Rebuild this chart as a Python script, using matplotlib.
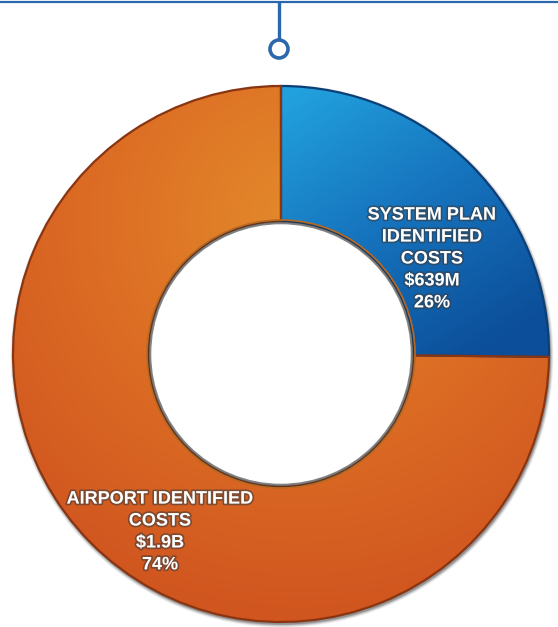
import matplotlib
matplotlib.use("Agg")
import matplotlib.pyplot as plt
import matplotlib.patheffects as pe
from matplotlib.patches import Wedge, Circle
from matplotlib.colors import LinearSegmentedColormap
import numpy as np

# data
categories = ["SYSTEM PLAN\nIDENTIFIED\nCOSTS", "AIRPORT IDENTIFIED\nCOSTS"]
amounts = [639, 1900]          # $M
amount_labels = ["$639M", "$1.9B"]
pct_labels = ["26%", "74%"]

W, H = 558, 627
fig = plt.figure(figsize=(W / 100, H / 100), dpi=100)
ax = fig.add_axes([0, 0, 1, 1])

cx, cy = 281, H - 354
R, r_in = 268, 133

# drop shadow ring behind the donut
for k, a in zip(range(6, 0, -1), [0.04, 0.06, 0.08, 0.1, 0.14, 0.2]):
    ax.add_patch(Circle((cx + 1, cy - 2), R + k * 0.6, color='#222222', alpha=a, lw=0))

wedges, _ = ax.pie(amounts, radius=R, center=(cx, cy), startangle=90,
                   counterclock=False, frame=True,
                   colors=['#1b82c8', '#dc6a24'],
                   wedgeprops=dict(width=R - r_in, edgecolor='none', linewidth=0))
ax.set_xlim(0, W)
ax.set_ylim(0, H)
ax.set_aspect('equal')
ax.axis('off')

# gradient fills clipped to wedges
xx, yy = np.meshgrid(np.linspace(0, W, 280), np.linspace(0, H, 314))

# blue: light top-left to dark bottom-right
t = ((xx - 290) * 0.55 + (H - yy - 90) * 0.85) / 330.0
t = np.clip(t, 0, 1)
blue_cmap = LinearSegmentedColormap.from_list('b', ['#22a2de', '#1673bd', '#0c4e99'])
im = ax.imshow(t, extent=(0, W, 0, H), origin='lower', cmap=blue_cmap,
               vmin=0, vmax=1, zorder=2, interpolation='bilinear')
im.set_clip_path(wedges[0])

# orange: lighter in the middle of the ring top, darker red toward outside / bottom-left
d = np.hypot(xx - 300, (H - yy) - 220) / 420.0
d = np.clip(d, 0, 1)
orange_cmap = LinearSegmentedColormap.from_list('o', ['#e38a2b', '#dc6c24', '#cf531f'])
im2 = ax.imshow(d, extent=(0, W, 0, H), origin='lower', cmap=orange_cmap,
                vmin=0, vmax=1, zorder=2, interpolation='bilinear')
im2.set_clip_path(wedges[1])
ax.set_xlim(0, W)
ax.set_ylim(0, H)

# wedge edges
for w, ec in zip(wedges, ['#0b3f78', '#8a3512']):
    ax.add_patch(Wedge(w.center, w.r, w.theta1, w.theta2, width=w.width, fill=False,
                       edgecolor=ec, linewidth=1.6, zorder=3))

# inner hole shadow
for k, a in zip(range(5), [0.35, 0.22, 0.14, 0.08, 0.04]):
    ax.add_patch(Circle((cx, cy), r_in - k * 0.8, fill=False,
                        edgecolor='#333333', alpha=a, lw=1.2, zorder=4))
ax.add_patch(Circle((cx, cy), r_in - 4, color='white', zorder=4))
ax.add_patch(Circle((cx, cy), r_in + 1, fill=False, edgecolor='#b86a22', lw=1.2, zorder=4))

# labels
fx = dict(color='white', fontsize=13, fontweight='bold', family='Liberation Sans',
          ha='center', va='center', linespacing=1.38, zorder=6,
          path_effects=[pe.withStroke(linewidth=2.5, foreground='#3a3a3a', alpha=0.55)])
label_pos = [(432, H - 259), (160, H - 532)]
for cat, amt, pct, (tx, ty) in zip(categories, amount_labels, pct_labels, label_pos):
    ax.text(tx, ty, cat + "\n" + amt.replace("$", r"\$") + "\n" + pct, **fx)

# connector at the top
line_c = '#2b67ad'
ax.plot([0, W], [H - 1.5, H - 1.5], color=line_c, lw=1.6, solid_capstyle='butt', zorder=5)
ax.plot([279, 279], [H - 1, H - 39], color=line_c, lw=2.4, solid_capstyle='butt', zorder=5)
ax.add_patch(Circle((279, H - 49), 9, facecolor='white', edgecolor=line_c, lw=2.6, zorder=5))

fig.savefig('out.png', dpi=100, facecolor='white')
